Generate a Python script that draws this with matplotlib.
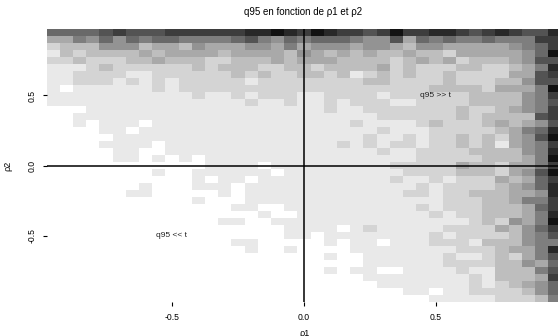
import numpy as np
import matplotlib
matplotlib.use("Agg")
import matplotlib.pyplot as plt
from matplotlib.colors import ListedColormap

plt.rcParams['font.family'] = ['Liberation Sans', 'DejaVu Sans']

# grid of correlations
rho1 = np.round(np.arange(-0.95, 0.951, 0.05), 2)   # x
rho2 = np.round(np.arange(-0.95, 0.951, 0.05), 2)   # y

# q95 class (0 = lowest, 11 = highest), rows from rho2 = 0.95 (top) down to -0.95
q95_rows_top_down = [
    "7777898889999" "99AABA9BA9989" "B99AA989A988A",
    "4465757677666" "6786576777655" "8476766766699",
    "2333555344354" "4455464555455" "4355444445679",
    "1323333434444" "3444435434343" "343324444457B",
    "2232223343332" "2333434443333" "2343423334588",
    "1112322222232" "3332233233334" "232223322346A",
    "1122221122222" "2323223323123" "2322322224489",
    "1122212121222" "2212222222233" "2222322233588",
    "1011111121222" "2222222222222" "222333324446B",
    "1111111111121" "1212221122221" "2222223333569",
    "1111111111111" "1121121121222" "1122223333568",
    "0001111111111" "1111111121122" "2222232234569",
    "0011111111111" "1111111111112" "2222232333389",
    "0010111011111" "1111111111211" "1123222343458",
    "0000110111111" "1111111111112" "111222223467A",
    "0000011111111" "1111111111121" "121223232458B",
    "0000111101111" "1111111112121" "2212232314569",
    "0000011001111" "1111111111112" "112222333356A",
    "0000011010101" "1111111111111" "112222233346B",
    "0000000000001" "1110111111111" "2222243324469",
    "0000000010011" "1111011111111" "122223332458B",
    "0000000000010" "1101111111111" "2112122243479",
    "0000000100011" "1011111111111" "112122223457A",
    "0000001100000" "1011111111111" "122122333445A",
    "0000000000010" "0011111111111" "1111222334669",
    "0000000000000" "0110011111111" "1121222333479",
    "0000000000000" "0001001111111" "111212233346A",
    "0000000000000" "1100111111111" "111111232546B",
    "0000000000000" "0000011110121" "1111222243579",
    "0000000000000" "0000011011111" "1112122223568",
    "0000000000000" "0110000010110" "1112221333566",
    "0000000000000" "0010010000111" "111112223446A",
    "0000000000000" "0000000010011" "1111211232468",
    "0000000000000" "0000000000011" "1111222233547",
    "0000000000000" "0000000010110" "0111121133368",
    "0000000000000" "0000000000011" "1111112133349",
    "0000000000000" "0000000000001" "1111112123457",
    "0000000000000" "0000000000000" "0110112222357",
    "0000000000000" "0000000000000" "0001111122236",
]

gray_values = [255, 233, 212, 190, 169, 147, 126, 105, 83, 61, 40, 18]

x_ticks = [-0.5, 0.0, 0.5]
x_tick_labels = ["-0.5", "0.0", "0.5"]
y_ticks = [-0.5, 0.0, 0.5]
y_tick_labels = ["-0.5", "0.0", "0.5"]

annotations = [(0.5, 0.5, "q95 >> t"), (-0.5, -0.5, "q95 << t")]

title = "q95 en fonction de \u03c11 et \u03c12"
xlabel = "\u03c11"
ylabel = "\u03c12"

# ---------------------------------------------------------------
Z = np.array([[int(c, 16) for c in row] for row in q95_rows_top_down])[::-1]
cmap = ListedColormap([(g / 255, g / 255, g / 255) for g in gray_values])

W, H = 558, 336
fig = plt.figure(figsize=(W / 100, H / 100), dpi=100)
left_px, right_px, top_px, bottom_px = 46.6, 561.4, 29.0, 302.0
ax = fig.add_axes([left_px / W, 1 - bottom_px / H,
                   (right_px - left_px) / W, (bottom_px - top_px) / H])

ax.pcolormesh(rho1, rho2, Z, cmap=cmap, vmin=-0.5, vmax=len(gray_values) - 0.5,
              shading='nearest', edgecolors='none')
ax.set_xlim(-0.975, 0.975)
ax.set_ylim(-0.975, 0.975)

ax.axhline(0, color='black', lw=1.1)
ax.axvline(0, color='black', lw=1.1)

for s in ax.spines.values():
    s.set_visible(False)

ax.set_xticks(x_ticks)
ax.set_xticklabels(x_tick_labels)
ax.set_yticks(y_ticks)
ax.set_yticklabels(y_tick_labels, rotation=90, va='center')
ax.tick_params(axis='both', length=3, width=0.8, labelsize=6.2, color='black')
ax.tick_params(axis='x', pad=5)
ax.tick_params(axis='y', pad=4.5)

for x, y, t in annotations:
    ax.text(x, y, t, ha='center', va='center', fontsize=6.0, color='#222222')

fig.text(303 / W, 1 - 12 / H, title, ha='center', va='center', fontsize=7)
fig.text(304 / W, 1 - 333 / H, xlabel, ha='center', va='center', fontsize=6.5)
fig.text(8 / W, 1 - 166 / H, ylabel, ha='center', va='center', fontsize=6.5, rotation=90)

fig.savefig("out.png", dpi=100)
